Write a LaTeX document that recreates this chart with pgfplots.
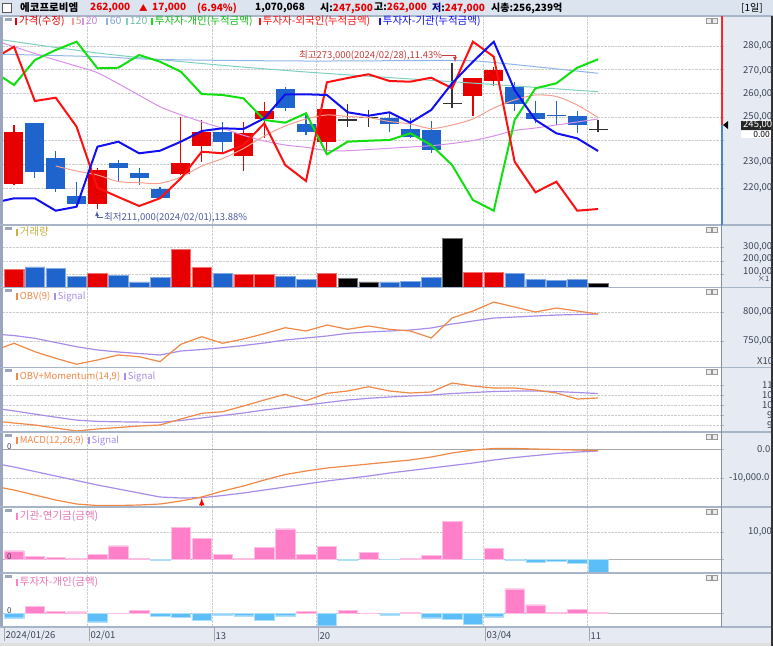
\documentclass[border=0pt]{standalone}
\usepackage{fontspec}
\setmainfont{Noto Sans CJK KR}
\usepackage{pgfplots}
\usepackage{pgfplotstable}
\pgfplotsset{compat=1.18}
\definecolor{hdrbg}{HTML}{DCE4F0}
\definecolor{sidebg}{HTML}{E6EBF3}
\definecolor{leftb}{HTML}{9AA6BC}
\definecolor{sepc}{HTML}{A8B4C8}
\definecolor{cred}{HTML}{E60000}
\definecolor{cblue}{HTML}{1F64CC}
\definecolor{ma5}{HTML}{F4A090}
\definecolor{ma20}{HTML}{D890E8}
\definecolor{ma60}{HTML}{8FB4E8}
\definecolor{ma120}{HTML}{7FD0C0}
\definecolor{indc}{HTML}{10E010}
\definecolor{frnc}{HTML}{FF1010}
\definecolor{insc}{HTML}{1010F0}
\definecolor{obvc}{HTML}{F08848}
\definecolor{sigc}{HTML}{A88CE8}
\definecolor{pinkb}{HTML}{FF80C8}
\definecolor{skyb}{HTML}{5CBEF8}
\definecolor{volt}{HTML}{C8B040}
\definecolor{axlab}{HTML}{3C4456}
\definecolor{hired}{HTML}{C83C3C}
\definecolor{lowbl}{HTML}{4C5CA0}
\newcommand\fs[1]{\fontsize{#1}{#1}\selectfont}
\newcommand\mk[1]{\textcolor{#1}{\rule[-0.5pt]{2.2pt}{7pt}}\hspace{1.5pt}}
\newcommand\T[4][west]{\node[anchor=#1,inner sep=0pt] at (#2pt,-#3pt) {#4};}
\newcommand\RL[3]{\node[anchor=west,inner sep=0pt,text=axlab,font=\fs{9.5}] at (#1pt,-#2pt) {#3};}
\newcommand\icons[1]{%
  \fill[leftb] (5pt,-#1pt-1.5pt) rectangle (12pt,-#1pt-4.5pt);
  \filldraw[fill=white!85!gray,draw=gray!80] (706pt,-#1pt-2pt) rectangle (711pt,-#1pt-7pt);
  \filldraw[fill=white!85!gray,draw=gray!80] (712.5pt,-#1pt-2pt) rectangle (717.5pt,-#1pt-7pt);}

\pgfplotsset{panel/.style={
  scale only axis, width=718pt, anchor=north west,
  xmin=0.4727, xmax=34.893,
  axis line style={draw=none},
  xtick={4.5,10.5,15.5,23.5,28.5}, xticklabels={},
  xtick style={draw=none},
  scaled y ticks=false,
  ytick pos=right, yticklabels={},
  ytick style={draw=sepc, line width=0.8pt}, tick align=outside, major tick length=3pt,
  xmajorgrids, ymajorgrids,
  grid style={densely dotted, gray!40, line width=0.6pt},
  clip=true},
  candle/.style={only marks, mark=*, mark size=0pt, mark options={draw=none, fill=none},
    error bars/.cd, y dir=both, y explicit, error mark=none}}

\pgfplotstableread{
i o h l c
1 221570 246620 221270 243790
5 213240 228330 211000 227610
9 225790 250130 225500 230440
10 237750 248740 231120 243540
12 233530 248020 227190 243370
13 249160 256470 241000 252660
16 239570 253380 234670 253380
23 258880 266610 250550 266610
24 265340 271250 263230 269860
}\candR
\pgfplotstableread{
i o h l c
2 247340 247600 224110 226640
3 232550 235640 218440 219580
4 216620 222410 212820 213240
6 230440 231830 222410 228580
7 226220 228330 221270 224360
8 219460 220550 215360 215650
11 243540 248020 235340 239570
14 261830 262800 252540 253930
15 246920 250850 242400 243540
19 249450 251990 243540 247170
20 244810 249450 241000 241550
21 244510 248310 234920 236060
25 262550 264660 252660 255490
26 251570 256760 247340 249160
27 250850 256760 246620 250500
28 250550 252540 243110 246620
}\candB
\pgfplotstableread{
i o h l c
17 248740 255490 245650 248740
18 249880 252960 245650 249880
22 255790 273000 253680 255790
29 244810 248740 243540 244810
}\candK

\begin{document}
\begin{tikzpicture}[font=\fs{10}]
% backgrounds
\fill[sidebg] (0pt,0pt) rectangle (773pt,-646pt);
\fill[hdrbg] (0pt,0pt) rectangle (773pt,-16pt);
\fill[white] (3pt,-16pt) rectangle (721pt,-627pt);
\fill[leftb] (0pt,-16pt) rectangle (2.5pt,-627pt);
\fill[gray!25] (0pt,-643pt) rectangle (773pt,-646pt);

% ===== main price panel =====
\begin{axis}[panel, at={(3pt,-16pt)}, height=209pt,
  ymin=204372, ymax=292675, ytick={220000,230000,...,280000}]
% candles: wicks
\addplot[candle, error bar style={draw=cred, line width=1.2pt}]
  table[x=i, y expr={(\thisrow{h}+\thisrow{l})/2}, y error expr={(\thisrow{h}-\thisrow{l})/2}] {\candR};
\addplot[candle, error bar style={draw=cblue, line width=1.2pt}]
  table[x=i, y expr={(\thisrow{h}+\thisrow{l})/2}, y error expr={(\thisrow{h}-\thisrow{l})/2}] {\candB};
\addplot[candle, error bar style={draw=black!80, line width=1.2pt}]
  table[x=i, y expr={(\thisrow{h}+\thisrow{l})/2}, y error expr={(\thisrow{h}-\thisrow{l})/2}] {\candK};
% candles: bodies
\addplot[candle, error bar style={draw=cred, line width=19pt}]
  table[x=i, y expr={(\thisrow{o}+\thisrow{c})/2}, y error expr={max(abs(\thisrow{o}-\thisrow{c})/2,250)}] {\candR};
\addplot[candle, error bar style={draw=cblue, line width=19pt}]
  table[x=i, y expr={(\thisrow{o}+\thisrow{c})/2}, y error expr={max(abs(\thisrow{o}-\thisrow{c})/2,250)}] {\candB};
\addplot[candle, error bar style={draw=black!80, line width=19pt}]
  table[x=i, y expr={(\thisrow{o}+\thisrow{c})/2}, y error expr={max(abs(\thisrow{o}-\thisrow{c})/2,250)}] {\candK};
% moving averages
\addplot[ma120, line width=1pt, smooth] coordinates {(0,283170) (5,277040) (10,272610) (15,269020) (22,264920) (29,260690)};
\addplot[ma60, line width=1pt, smooth] coordinates {(0,276620) (5,275480) (8,274300) (15,273660) (22,273870) (24,273030) (29,268470)};
\addplot[ma20, line width=1pt, smooth] coordinates {(0,282540) (1,279700) (2,276830) (3,274080) (4,271470) (5,268720) (6,264070) (7,259210) (8,254350) (9,250930) (10,247970) (11,245180) (12,242270) (13,239860) (14,238170) (15,237200) (16,235850) (17,235760) (18,236270) (19,236780) (20,237330) (21,237880) (22,238810) (23,240070) (24,241980) (25,244300) (26,245360) (27,246620) (28,247890) (29,249160)};
\addplot[ma5, line width=1pt, smooth] coordinates {(3,229300) (4,227190) (5,225500) (6,222750) (7,222240) (8,221990) (9,224650) (10,229300) (11,232470) (12,236700) (13,241980) (14,246200) (15,249160) (16,250850) (17,250210) (18,249710) (19,248100) (20,247050) (21,245140) (22,246620) (23,249160) (24,253800) (25,257190) (26,259300) (27,258660) (28,255070) (29,249790)};
% investor cumulative lines
\addplot[indc, line width=2pt] coordinates {(0,269440) (1,263520) (2,274080) (3,278310) (4,281820) (5,270580) (6,270830) (7,276200) (8,273370) (9,269140) (10,259720) (11,259300) (12,257900) (13,248740) (14,247600) (15,251570) (16,234240) (17,239570) (18,239990) (19,240280) (20,243110) (21,238170) (22,229720) (23,214940) (24,210420) (25,248740) (26,262130) (27,264240) (28,270830) (29,274380)};
\addplot[frnc, line width=2pt] coordinates {(0,274510) (1,279700) (2,256760) (3,258160) (4,245900) (5,220130) (6,216200) (7,212400) (8,215650) (9,224100) (10,235340) (11,234670) (12,238170) (13,247340) (14,229720) (15,222960) (16,264660) (17,266480) (18,268040) (19,265210) (20,264920) (21,266610) (22,262130) (23,281820) (24,275480) (25,231120) (26,218190) (27,222670) (28,210420) (29,211130)};
\addplot[insc, line width=2pt] coordinates {(0,213670) (1,215650) (2,215650) (3,210410) (4,212100) (5,237450) (6,239570) (7,234670) (8,235760) (9,239570) (10,244090) (11,245230) (12,244930) (13,249450) (14,259590) (15,259590) (16,259300) (17,251990) (18,250550) (19,251990) (20,247600) (21,252960) (22,264240) (23,273370) (24,281820) (25,261410) (26,248740) (27,243110) (28,240990) (29,235640)};
\end{axis}

% ===== volume =====
\begin{axis}[panel, at={(3pt,-225pt)}, height=62.5pt, ymin=0, ymax=469900, ytick={100000,200000,300000}]
\addplot[ybar, bar width=19.5pt, bar shift=0pt, fill=cred, draw=cred!55] coordinates {(1,137600) (5,105300) (9,288000) (10,150400) (12,97700) (13,97700) (16,105300) (23,112800) (24,112800)};
\addplot[ybar, bar width=19.5pt, bar shift=0pt, fill=cblue, draw=cblue!55] coordinates {(2,154900) (3,142900) (4,85000) (6,90200) (7,42100) (8,77400) (11,107500) (14,85000) (15,62400) (19,42100) (20,45100) (21,75200) (25,105300) (26,60200) (27,56400) (28,60200)};
\addplot[ybar, bar width=19.5pt, bar shift=0pt, fill=black, draw=black!55] coordinates {(17,67700) (18,42100) (22,368400) (29,30100)};
\end{axis}

% ===== OBV =====
\begin{axis}[panel, at={(3pt,-287.5pt)}, height=80pt, ymin=705.6, ymax=841.7, ytick={750,800}]
\addplot[sigc, line width=1.2pt] coordinates {(0,762.6) (1,760.0) (2,755.3) (3,748.1) (4,741.0) (5,735.4) (6,732.0) (7,729.4) (8,726.9) (9,733.7) (10,736.2) (11,739.3) (12,743.0) (13,747.3) (14,752.4) (15,755.8) (16,759.2) (17,763.8) (18,766.0) (19,767.7) (20,769.4) (21,772.8) (22,779.6) (23,784.7) (24,789.8) (25,791.5) (26,793.2) (27,794.9) (28,795.7) (29,796.6)};
\addplot[obvc, line width=1.2pt] coordinates {(0,733.7) (1,746.8) (2,732.5) (3,721.3) (4,711.1) (5,718.4) (6,726.9) (7,724.0) (8,715.5) (9,745.1) (10,758.0) (11,746.8) (12,754.1) (13,763.1) (14,773.3) (15,767.7) (16,777.9) (17,770.6) (18,776.2) (19,770.6) (20,767.7) (21,755.8) (22,789.8) (23,801.7) (24,817.0) (25,808.5) (26,800.0) (27,806.8) (28,801.7) (29,796.6)};
\end{axis}

% ===== OBV + Momentum =====
\begin{axis}[panel, at={(3pt,-367.5pt)}, height=64.5pt, ymin=86.5, ymax=118.75, ytick={90,95,...,110}]
\addplot[sigc, line width=1.2pt] coordinates {(0,98.5) (1,97.05) (2,95.45) (3,93.9) (4,92.45) (5,91.8) (6,91.6) (7,91.45) (8,91.35) (9,92.25) (10,93.5) (11,94.75) (12,96.0) (13,97.5) (14,98.75) (15,100.0) (16,101.25) (17,102.5) (18,103.35) (19,104.0) (20,104.5) (21,105.0) (22,105.75) (23,106.25) (24,106.75) (25,107.0) (26,107.0) (27,106.75) (28,106.25) (29,105.75)};
\addplot[obvc, line width=1.2pt] coordinates {(0,92.0) (1,91.0) (2,90.0) (3,88.5) (4,87.0) (5,88.0) (6,88.75) (7,89.5) (8,90.0) (9,93.0) (10,95.85) (11,96.65) (12,99.5) (13,102.5) (14,105.35) (15,102.15) (16,105.85) (17,107.0) (18,109.15) (19,107.0) (20,106.0) (21,106.5) (22,111.0) (23,109.5) (24,108.5) (25,108.5) (26,107.5) (27,106.0) (28,103.0) (29,103.5)};
\end{axis}

% ===== MACD =====
\begin{axis}[panel, at={(3pt,-432pt)}, height=75pt, ymin=-19998, ymax=5862, ytick={-10000,0}]
\addplot[gray!70, line width=1pt] coordinates {(0,0) (35,0)};
\addplot[sigc, line width=1.2pt] coordinates {(0,-4827) (1,-6206) (2,-7758) (3,-9310) (4,-10861) (5,-12413) (6,-13792) (7,-15171) (8,-16550) (9,-16895) (10,-16792) (11,-16033) (12,-15171) (13,-14137) (14,-13102) (15,-12068) (16,-11034) (17,-10172) (18,-9310) (19,-8275) (20,-7413) (21,-6551) (22,-5689) (23,-4827) (24,-3793) (25,-2931) (26,-2241) (27,-1552) (28,-1034) (29,-690)};
\addplot[obvc, line width=1.2pt] coordinates {(0,-12758) (1,-14137) (2,-15861) (3,-17585) (4,-18964) (5,-19481) (6,-19481) (7,-19309) (8,-18964) (9,-17930) (10,-16550) (11,-14482) (12,-12758) (13,-10689) (14,-8792) (15,-7586) (16,-6552) (17,-5862) (18,-5172) (19,-4482) (20,-3793) (21,-2758) (22,-1379) (23,-345) (24,172) (25,172) (26,0) (27,-172) (28,-345) (29,-517)};
\addplot[red, line width=1.5pt, -{latex}] coordinates {(10,-20000) (10,-16900)};
\end{axis}

% ===== institution - pension =====
\begin{axis}[panel, at={(3pt,-507pt)}, height=66pt, ymin=-5185, ymax=19259, ytick={0,10000}]
\addplot[gray!60, line width=1pt] coordinates {(0,0) (35,0)};
\addplot[ybar, bar width=19.5pt, bar shift=0pt, fill=pinkb, draw=pinkb!50] coordinates {(1,3070) (2,1110) (3,740) (4,370) (5,1850) (6,4930) (7,370) (9,11600) (10,7780) (11,1850) (12,370) (13,4440) (14,11220) (15,1850) (16,4810) (18,2480) (20,370) (21,1360) (22,13830) (24,4070)};
\addplot[ybar, bar width=19.5pt, bar shift=0pt, fill=skyb, draw=skyb!50] coordinates {(8,-480) (17,-480) (19,-150) (23,-150) (25,-490) (26,-1230) (27,-860) (28,-1480) (29,-4940)};
\end{axis}

% ===== individual =====
\begin{axis}[panel, at={(3pt,-573pt)}, height=54pt, ymin=-13700, ymax=40300, ytick={0}]
\addplot[gray!60, line width=1pt] coordinates {(0,0) (35,0)};
\addplot[ybar, bar width=19.5pt, bar shift=0pt, fill=pinkb, draw=pinkb!50] coordinates {(2,7300) (3,2300) (4,1600) (6,300) (7,3300) (15,2300) (17,3300) (18,300) (20,1300) (25,24600) (26,8600) (27,1300) (28,4000) (29,1300)};
\addplot[ybar, bar width=19.5pt, bar shift=0pt, fill=skyb, draw=skyb!50] coordinates {(1,-4400) (5,-8400) (8,-2700) (9,-3700) (10,-6700) (11,-1400) (12,-2400) (13,-6700) (14,-2400) (16,-12400) (19,-1400) (21,-4400) (22,-6000) (23,-10700) (24,-3400)};
\end{axis}

% separators and right border
\foreach \yy in {16,225,287.5,367.5,432,507,573,627}{\draw[sepc, line width=1.2pt] (0pt,-\yy pt) -- (773pt,-\yy pt);}
\draw[red!85, line width=2pt] (721.5pt,-16pt) -- (721.5pt,-125pt);
\draw[cblue!80, line width=2pt] (721.5pt,-125pt) -- (721.5pt,-225pt);
\draw[sepc!80!black, line width=1pt] (721.5pt,-225pt) -- (721.5pt,-627pt);
\fill[black!80] (771pt,-16pt) rectangle (773pt,-646pt);

% panel icons
\icons{16}\icons{225}\icons{287.5}\icons{367.5}\icons{432}\icons{507}\icons{573}

% header
\filldraw[fill=white, draw=gray!70!black, line width=0.8pt] (2.5pt,-3pt) rectangle (11.5pt,-12pt);
\begin{scope}[font=\fs{10}\bfseries]
\T{20}{8}{\fs{10.5}에코프로비엠}
\T{90}{8}{\textcolor{cred}{262,000}}
\T{139}{8}{\textcolor{cred}{\fs{8.5}▲}}
\T{152}{8}{\textcolor{cred}{17,000}}
\T{197}{8}{\textcolor{cred}{(6.94\%)}}
\T{255}{8}{1,070,068}
\T{320}{8}{시:\textcolor{cred}{247,500}}
\T{374}{8}{고:\textcolor{cred}{262,000}}
\T{432}{8}{\textcolor{blue!50!black}{저}:\textcolor{cred}{247,000}}
\T{491}{8}{시총:256,239억}
\end{scope}
\T{741}{8}{\fs{10}[1일]}

% main legend
\begin{scope}[font=\fs{10.5}]
\T{15}{21}{\mk{cred}\textcolor{cred}{가격(수정)}}
\T{72}{21}{\mk{ma5}\textcolor{ma5!90!black}{5}}
\T{82}{21}{\mk{ma20}\textcolor{ma20!90!black}{20}}
\T{106}{21}{\mk{ma60}\textcolor{ma60!90!black}{60}}
\T{126}{21}{\mk{ma120}\textcolor{ma120!90!black}{120}}
\T{151}{21}{\mk{indc}\textcolor{indc!85!black}{투자자-개인(누적금액)}}
\T{259}{21}{\mk{frnc}\textcolor{frnc}{투자자-외국인(누적금액)}}
\T{379}{21}{\mk{insc}\textcolor{insc}{투자자-기관(누적금액)}}
\T{16}{232}{\mk{volt}\textcolor{volt}{거래량}}
\T{16}{582}{\mk{pinkb}\textcolor{pinkb!90!black}{투자자-개인(금액)}}
\T{16}{516}{\mk{pinkb}\textcolor{pinkb!90!black}{기관-연기금(금액)}}
\end{scope}
\begin{scope}[font=\fs{9.5}]
\T{16}{297}{\mk{obvc}\textcolor{obvc}{OBV(9)}\hspace{4pt}\mk{sigc}\textcolor{sigc}{Signal}}
\T{16}{377}{\mk{obvc}\textcolor{obvc}{OBV+Momentum(14,9)}\hspace{4pt}\mk{sigc}\textcolor{sigc}{Signal}}
\T{16}{441}{\mk{obvc}\textcolor{obvc}{MACD(12,26,9)}\hspace{4pt}\mk{sigc}\textcolor{sigc}{Signal}}
\end{scope}
\begin{scope}[font=\fs{8}]
\T{7}{447}{\textcolor{axlab}{0}}
\T{7}{557}{\textcolor{axlab}{0}}
\T{7}{611}{\textcolor{axlab}{0}}
\end{scope}

% annotations
\node[anchor=west, inner sep=0pt, font=\fs{9.5}, text=hired] at (299pt,-55pt) {최고273,000(2024/02/28),11.43\%};
\draw[hired, line width=0.8pt, -{latex}] (442pt,-55pt) -- (455pt,-55pt) -- (455pt,-62pt);
\node[anchor=west, inner sep=0pt, font=\fs{9.5}, text=lowbl] at (104pt,-217.5pt) {최저211,000(2024/02/01),13.88\%};
\draw[lowbl, line width=0.8pt, -{latex}] (103pt,-217.5pt) -- (97pt,-217.5pt) -- (97pt,-211pt);

% right labels (as visible)
\RL{743}{46}{280,00}\RL{743}{70.5}{270,00}\RL{743}{94}{260,00}\RL{743}{117}{250,00}\RL{743}{162}{230,00}\RL{743}{188}{220,00}
\fill[black!85] (741pt,-120.5pt) rectangle (771pt,-130pt);
\node[anchor=west,inner sep=0pt,text=white,font=\fs{9.5}] at (743pt,-125.3pt) {245,00};
\fill[white] (741pt,-130.5pt) rectangle (771pt,-137.5pt);
\node[anchor=east,inner sep=0pt,text=black,font=\fs{8.5}] at (770pt,-134pt) {0.00};
\fill[black] (723pt,-125pt) -- (728pt,-121pt) -- (728pt,-129pt) -- cycle;
\RL{743}{246.7}{300,00}\RL{743}{259.3}{200,00}\RL{743}{271.5}{100,00}
\node[anchor=east,inner sep=0pt,text=axlab,font=\fs{7.5}] at (769.5pt,-279pt) {×1};
\RL{743}{312}{800,00}\RL{743}{341}{750,00}
\RL{757}{361}{X10}
\RL{762}{385}{11}\RL{762}{395}{10}\RL{762}{405.5}{10}\RL{767}{415.5}{9}\RL{767}{425.5}{9}
\RL{757}{449}{0.0}\RL{729}{478}{-10,000.0}
\RL{748}{532}{10,00}

% date strip
\foreach \xx in {4,89,214,318,485,589}{\draw[gray!70, line width=0.8pt] (\xx pt,-627pt) -- (\xx pt,-641pt);}
\begin{scope}[font=\fs{9.5}]
\T{5.5}{636}{\textcolor{axlab}{2024/01/26}}
\T{90.5}{636}{\textcolor{axlab}{02/01}}
\T{215.5}{636}{\textcolor{axlab}{13}}
\T{319.5}{636}{\textcolor{axlab}{20}}
\T{486.5}{636}{\textcolor{axlab}{03/04}}
\T{590.5}{636}{\textcolor{axlab}{11}}
\end{scope}
\pgfresetboundingbox
\path[use as bounding box] (0pt,0pt) rectangle (773pt,-646pt);
\end{tikzpicture}
\end{document}
